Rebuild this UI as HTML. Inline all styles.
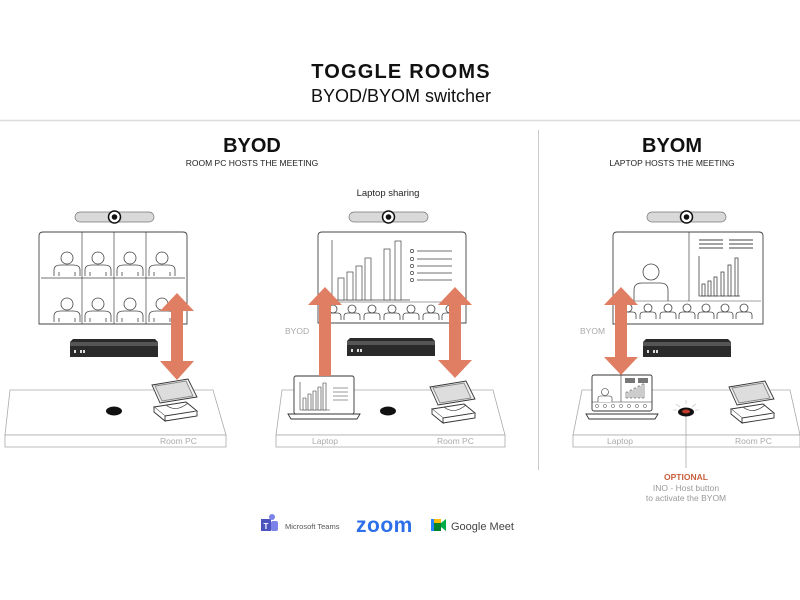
<!DOCTYPE html>
<html><head><meta charset="utf-8"><style>
html,body{margin:0;padding:0;background:#fff;}
svg{display:block;font-family:"Liberation Sans",sans-serif;}
</style></head><body>
<svg width="800" height="600" viewBox="0 0 800 600" xmlns="http://www.w3.org/2000/svg">
<defs>
  <g id="p" fill="none" stroke="#444" stroke-width="0.8">
    <circle cx="0" cy="-8" r="6"/>
    <path d="M-13 10 V4 Q-13 -1 -6 -1 H6 Q13 -1 13 4 V10"/>
    <path d="M-8 6 V10 M8 6 V10"/>
  </g>
  <g id="sp" fill="none" stroke="#444" stroke-width="0.8">
    <circle cx="0" cy="-4" r="4"/>
    <path d="M-8 7 V3 Q-8 0 -4 0 H4 Q8 0 8 3 V7"/>
  </g>
  <g id="cam">
    <rect x="0" y="0" width="79" height="10" rx="5" fill="#d9d9d9" stroke="#777" stroke-width="0.7"/>
    <circle cx="39.5" cy="5" r="6" fill="#fff" stroke="#111" stroke-width="1.5"/>
    <circle cx="39.5" cy="5" r="2.8" fill="#111"/>
  </g>
  <g id="hub">
    <path d="M0 3 L3 0 H85 L88 3 V18 H0 Z" fill="#2a2a2a"/>
    <rect x="0" y="3" width="88" height="4" fill="#555"/>
    <rect x="4" y="11" width="2" height="3" fill="#ddd"/><rect x="10" y="11" width="2" height="3" fill="#ddd"/><rect x="13" y="11" width="2" height="3" fill="#ddd"/>
  </g>
  <g id="tab" fill="#fff" stroke="#333" stroke-width="0.9">
    <path d="M4 32 L36 27 L47 36 L15 41 Z"/>
    <path d="M4 32 V37 L15 46 V41 M15 46 L47 41 V36"/>
    <path d="M16 30 Q26 38 38 28" fill="none" stroke-width="0.7"/>
    <path d="M2 10 L38 4 L47 22 L10 28 Z" fill="#f2f2f2"/>
    <path d="M5 11 L36 6 L43 21 L12 26 Z" fill="#ddd" stroke="#888"/>
  </g>
</defs>

<!-- header -->
<text x="401" y="78" text-anchor="middle" font-size="20" font-weight="bold" letter-spacing="1.2" fill="#111">TOGGLE ROOMS</text>
<text x="401" y="102" text-anchor="middle" font-size="18" fill="#111">BYOD/BYOM switcher</text>
<line x1="0" y1="120.5" x2="800" y2="120.5" stroke="#ddd" stroke-width="1.5"/>
<line x1="538.5" y1="130" x2="538.5" y2="470" stroke="#ccc" stroke-width="1"/>

<text x="252" y="152" text-anchor="middle" font-size="20" font-weight="bold" fill="#111">BYOD</text>
<text x="252" y="166" text-anchor="middle" font-size="8.5" fill="#222">ROOM PC HOSTS THE MEETING</text>
<text x="672" y="152" text-anchor="middle" font-size="20" font-weight="bold" fill="#111">BYOM</text>
<text x="672" y="166" text-anchor="middle" font-size="8.5" fill="#222">LAPTOP HOSTS THE MEETING</text>
<text x="388" y="196" text-anchor="middle" font-size="9.5" fill="#222">Laptop sharing</text>

<!-- tables -->
<g fill="#fff" stroke="#aaa" stroke-width="0.8">
  <path d="M10 390 H213 L226 435 H5 Z"/><rect x="5" y="435" width="221" height="12"/>
  <path d="M282 390 H493 L505 435 H276 Z"/><rect x="276" y="435" width="229" height="12"/>
  <path d="M582 390 H790 L800 435 H573 Z"/><rect x="573" y="435" width="227" height="12"/>
</g>
<g font-size="8.5" fill="#aaa">
  <text x="160" y="444">Room PC</text>
  <text x="312" y="444">Laptop</text><text x="437" y="444">Room PC</text>
  <text x="607" y="444">Laptop</text><text x="735" y="444">Room PC</text>
</g>

<!-- panel 1 -->
<use href="#cam" x="75" y="212"/>
<g fill="#fff" stroke="#444" stroke-width="0.9">
  <path d="M39 324 V236 Q39 232 43 232 H183 Q187 232 187 236 V324 Z"/>
</g>
<g stroke="#444" stroke-width="0.7"><line x1="82" y1="232" x2="82" y2="324"/><line x1="114" y1="232" x2="114" y2="324"/><line x1="146" y1="232" x2="146" y2="324"/><line x1="41" y1="278" x2="185" y2="278"/></g>
<use href="#p" x="67" y="266"/><use href="#p" x="98" y="266"/><use href="#p" x="130" y="266"/><use href="#p" x="162" y="266"/>
<use href="#p" x="67" y="312"/><use href="#p" x="98" y="312"/><use href="#p" x="130" y="312"/><use href="#p" x="162" y="312"/>
<use href="#hub" x="70" y="339"/>
<ellipse cx="114" cy="411" rx="8" ry="4.5" fill="#111"/>
<use href="#tab" x="150" y="375"/>
<path d="M177 293 L194 311 H183 V361 H194 L177 380 L160 361 H171 V311 H160 Z" fill="#e07e63"/>

<!-- panel 2 -->
<use href="#cam" x="349" y="212"/>
<path d="M318 323 V236 Q318 232 322 232 H462 Q466 232 466 236 V323 Z" fill="#fff" stroke="#444" stroke-width="0.9"/>
<line x1="320" y1="302" x2="464" y2="302" stroke="#444" stroke-width="0.6"/>
<g fill="#fff" stroke="#444" stroke-width="0.7">
  <line x1="332" y1="240" x2="332" y2="300"/><line x1="332" y1="300" x2="410" y2="300"/>
  <rect x="338" y="278" width="6" height="22"/><rect x="347" y="272" width="6" height="28"/><rect x="356" y="266" width="6" height="34"/><rect x="365" y="258" width="6" height="42"/><rect x="384" y="249" width="6" height="51"/><rect x="395" y="241" width="6" height="59"/>
  <circle cx="412" cy="251" r="1.6"/><circle cx="412" cy="259" r="1.6"/><circle cx="412" cy="266" r="1.6"/><circle cx="412" cy="273" r="1.6"/><circle cx="412" cy="280" r="1.6"/>
  <path d="M417 251 H452 M417 259 H452 M417 266 H452 M417 273 H452 M417 280 H452"/>
</g>
<use href="#sp" x="333" y="313"/><use href="#sp" x="352" y="313"/><use href="#sp" x="372" y="313"/><use href="#sp" x="392" y="313"/><use href="#sp" x="411" y="313"/><use href="#sp" x="431" y="313"/><use href="#sp" x="450" y="313"/>
<use href="#hub" x="347" y="338"/>
<text x="285" y="334" font-size="8.5" fill="#aaa">BYOD</text>
<g fill="#fff" stroke="#333" stroke-width="0.9">
  <rect x="294" y="376" width="60" height="38" rx="2"/>
  <path d="M288 414 H360 L357 419 H291 Z"/>
  <path d="M300 410 V382 M300 410 H330" stroke-width="0.6"/>
  <path d="M303 398h3v12h-3zM308 394h3v16h-3zM313 391h3v19h-3zM318 387h3v23h-3zM323 383h3v27h-3z" stroke-width="0.6"/>
  <path d="M333 388h15M333 392h15M333 396h15M333 400h15" stroke-width="0.6"/>
</g>
<ellipse cx="388" cy="411" rx="8" ry="4.5" fill="#111"/>
<use href="#tab" x="428" y="377"/>
<path d="M325 287 L342 305 H331 V376 H319 V305 H308 Z" fill="#e07e63"/>
<path d="M455 287 L472 305 H461 V360 H472 L455 378 L438 360 H449 V305 H438 Z" fill="#e07e63"/>

<!-- panel 3 -->
<use href="#cam" x="647" y="212"/>
<path d="M613 324 V236 Q613 232 617 232 H759 Q763 232 763 236 V324 Z" fill="#fff" stroke="#444" stroke-width="0.9"/>
<line x1="689" y1="232" x2="689" y2="301" stroke="#444" stroke-width="0.7"/>
<line x1="615" y1="301" x2="761" y2="301" stroke="#444" stroke-width="0.6"/>
<g fill="none" stroke="#444" stroke-width="0.8">
  <circle cx="651" cy="272" r="8"/><path d="M634 301 V290 Q634 283 642 283 H660 Q668 283 668 290 V301"/>
  <path d="M699 256 V296 H740"/>
  <rect x="702" y="284" width="3" height="12"/><rect x="708" y="281" width="3" height="15"/><rect x="714" y="277" width="3" height="19"/><rect x="721" y="272" width="3" height="24"/><rect x="728" y="265" width="3" height="31"/><rect x="735" y="258" width="3" height="38"/>
  <path d="M699 240h24M699 244h24M699 248h24M729 240h24M729 244h24M729 248h24" stroke-width="1.1"/>
</g>
<use href="#sp" x="628" y="312"/><use href="#sp" x="648" y="312"/><use href="#sp" x="668" y="312"/><use href="#sp" x="687" y="312"/><use href="#sp" x="706" y="312"/><use href="#sp" x="725" y="312"/><use href="#sp" x="744" y="312"/>
<use href="#hub" x="643" y="339"/>
<text x="580" y="334" font-size="8.5" fill="#aaa">BYOM</text>
<g fill="#fff" stroke="#333" stroke-width="0.9">
  <rect x="592" y="375" width="60" height="36" rx="2"/>
  <path d="M586 414 H658 L655 419 H589 Z"/>
  <line x1="621" y1="375" x2="621" y2="402" stroke-width="0.6"/><line x1="592" y1="402" x2="652" y2="402" stroke-width="0.6"/>
  <circle cx="605" cy="392" r="3.5" stroke-width="0.6"/><path d="M598 402 V398 Q598 396 601 396 H609 Q612 396 612 398 V402" stroke-width="0.6"/>
  <rect x="625" y="378" width="10" height="5" fill="#777" stroke="none"/><rect x="638" y="378" width="10" height="5" fill="#777" stroke="none"/>
  <path d="M626 398h2v-6h-2zM630 398h2v-8h-2zM634 398h2v-10h-2zM638 398h2v-12h-2zM642 398h2v-14h-2z" stroke-width="0.5"/>
</g>
<g fill="none" stroke="#444" stroke-width="0.5">
  <circle cx="597" cy="406" r="1.6"/><circle cx="605" cy="406" r="1.6"/><circle cx="613" cy="406" r="1.6"/><circle cx="621" cy="406" r="1.6"/><circle cx="629" cy="406" r="1.6"/><circle cx="637" cy="406" r="1.6"/><circle cx="645" cy="406" r="1.6"/>
</g>
<line x1="686" y1="416" x2="686" y2="468" stroke="#aaa" stroke-width="0.8"/>
<g stroke="#bbb" stroke-width="0.6"><path d="M676 404 L680 407 M686 400 V404 M696 404 L692 407 M673 410 H677 M695 410 H699"/></g>
<ellipse cx="686" cy="412" rx="8" ry="4.5" fill="#111"/><ellipse cx="686" cy="411.5" rx="4" ry="2" fill="#c0392b"/>
<use href="#tab" x="727" y="377"/>
<path d="M621 287 L638 305 H627 V357 H638 L621 375 L604 357 H615 V305 H604 Z" fill="#e07e63"/>
<text x="686" y="480" text-anchor="middle" font-size="8.5" font-weight="bold" fill="#c8603e">OPTIONAL</text>
<text x="686" y="491" text-anchor="middle" font-size="8.5" fill="#999">INO - Host button</text>
<text x="686" y="501" text-anchor="middle" font-size="8.5" fill="#999">to activate the BYOM</text>

<!-- logos -->
<rect x="261" y="519" width="10" height="12" fill="#4b53bc"/><text x="266" y="529" text-anchor="middle" font-size="8" font-weight="bold" fill="#fff">T</text>
<circle cx="272" cy="517" r="3" fill="#7b83eb"/><rect x="271" y="521" width="7" height="10" rx="2" fill="#7b83eb"/>
<text x="285" y="529" font-size="7.5" fill="#555">Microsoft Teams</text>
<text x="356" y="532" font-size="21" font-weight="bold" fill="#2d6fe8" letter-spacing="0.5">zoom</text>
<rect x="431" y="519" width="10" height="12" fill="#00832d"/><rect x="431" y="519" width="10" height="4" fill="#fbbc04"/><path d="M441 523 L446 519 V531 L441 527 Z" fill="#00ac47"/><rect x="431" y="519" width="3" height="12" fill="#2684fc"/>
<text x="451" y="530" font-size="11" fill="#444">Google Meet</text>
</svg>
</body></html>
